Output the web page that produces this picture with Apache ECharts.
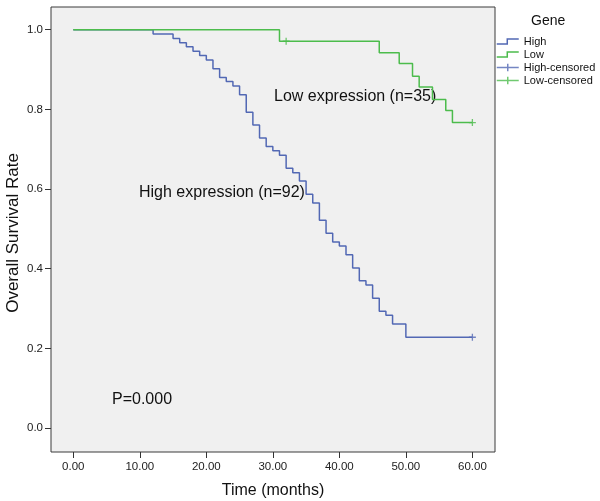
<!DOCTYPE html>
<html>
<head>
<meta charset="utf-8">
<script src="https://cdn.jsdelivr.net/npm/echarts@6/dist/echarts.min.js"></script>
<style>
html,body{margin:0;padding:0;background:#fff;}
#chart{width:600px;height:501px;}
</style>
</head>
<body>
<div id="chart"></div>
<script>
// Kaplan-Meier step data: [time (months), survival]
var highSteps = [
  [0, 1.0], [12, 0.989], [15, 0.978], [16, 0.967], [17, 0.957], [18, 0.946],
  [19, 0.935], [20, 0.924], [21, 0.902], [22, 0.880], [23, 0.870], [24, 0.859],
  [25, 0.837], [26, 0.793], [27, 0.761], [28, 0.728], [29, 0.707], [30, 0.696],
  [31, 0.685], [32, 0.652], [33, 0.641], [34, 0.620], [35, 0.587], [36, 0.565],
  [37, 0.522], [38, 0.489], [39, 0.467], [40, 0.457], [41, 0.435], [42, 0.402],
  [43, 0.370], [44, 0.359], [45, 0.326], [46, 0.293], [47, 0.283], [48, 0.261],
  [50, 0.228], [60, 0.228]
];
var lowSteps = [
  [0, 1.0], [31, 0.971], [46, 0.942], [49, 0.915], [51, 0.883], [52, 0.856],
  [54, 0.825], [56, 0.797], [57, 0.767], [60, 0.767]
];
var highCensored = [[60, 0.228]];
var lowCensored = [[32, 0.971], [60, 0.767]];

var xTicks = [0, 10, 20, 30, 40, 50, 60];
var yTicks = [0, 0.2, 0.4, 0.6, 0.8, 1.0];
var seriesNames = ['High', 'Low', 'High-censored', 'Low-censored'];

var BLUE = '#5268b4';
var GREEN = '#4cbc4c';
var FONT = '"Liberation Sans", Arial, Helvetica, sans-serif';
var crossPath = 'path://M0,3.5 L7,3.5 M3.5,0 L3.5,7';

var chart = echarts.init(document.getElementById('chart'), null, {renderer: 'canvas'});
chart.setOption({
  backgroundColor: '#ffffff',
  animation: false,
  textStyle: {fontFamily: FONT},
  title: {
    text: 'Gene', left: 531, top: 14, padding: 0,
    textStyle: {fontSize: 14, fontWeight: 'normal', color: '#111', fontFamily: FONT}
  },
  legend: {
    orient: 'vertical', left: 496, top: 35, padding: 0,
    itemWidth: 22, itemHeight: 8, itemGap: 0,
    selectedMode: false,
    textStyle: {fontSize: 11, color: '#111', lineHeight: 13, fontFamily: FONT},
    data: [
      {name: seriesNames[0], icon: 'path://M0,5 L11,5 L11,0 L23,0',
       itemStyle: {color: 'transparent', borderColor: BLUE, borderWidth: 1.5}},
      {name: seriesNames[1], icon: 'path://M0,5 L11,5 L11,0 L23,0',
       itemStyle: {color: 'transparent', borderColor: GREEN, borderWidth: 1.5}},
      {name: seriesNames[2], icon: 'path://M0,4 L23,4 M11.5,0 L11.5,8',
       itemStyle: {color: 'transparent', borderColor: BLUE, borderWidth: 1.5}},
      {name: seriesNames[3], icon: 'path://M0,4 L23,4 M11.5,0 L11.5,8',
       itemStyle: {color: 'transparent', borderColor: GREEN, borderWidth: 1.5}}
    ]
  },
  grid: {
    left: 51, right: 105, top: 7, bottom: 49,
    show: true, backgroundColor: '#f0f0f0', borderColor: '#3a3a3a', borderWidth: 1,
    containLabel: false, outerBoundsMode: 'none'
  },
  xAxis: {
    type: 'value', min: -3.35, max: 63.4,
    name: 'Time (months)', nameLocation: 'middle', nameGap: 31, nameMoveOverlap: false,
    nameTextStyle: {fontSize: 16, color: '#111', fontFamily: FONT},
    axisLine: {show: false, onZero: false},
    splitLine: {show: false},
    axisTick: {show: true, customValues: xTicks, length: 6, lineStyle: {color: '#333', width: 1}},
    axisLabel: {customValues: xTicks, fontSize: 11.5, color: '#222', margin: 9,
      formatter: function (v) { return v.toFixed(2); }}
  },
  yAxis: {
    type: 'value', min: -0.06, max: 1.057,
    name: 'Overall Survival Rate', nameLocation: 'middle', nameGap: 29, nameMoveOverlap: false,
    nameTextStyle: {fontSize: 17, color: '#111', fontFamily: FONT, padding: [0, 7, 0, 0]},
    axisLine: {show: false, onZero: false},
    splitLine: {show: false},
    axisTick: {show: true, customValues: yTicks, length: 6, lineStyle: {color: '#333', width: 1}},
    axisLabel: {customValues: yTicks, fontSize: 11.5, color: '#222', margin: 8,
      formatter: function (v) { return v.toFixed(1); }}
  },
  series: [
    {name: seriesNames[0], type: 'line', step: 'end', data: highSteps, showSymbol: false,
     lineStyle: {color: BLUE, width: 1.5}, itemStyle: {color: BLUE}, z: 3},
    {name: seriesNames[1], type: 'line', step: 'end', data: lowSteps, showSymbol: false,
     lineStyle: {color: GREEN, width: 1.5}, itemStyle: {color: GREEN}, z: 3},
    {name: seriesNames[2], type: 'scatter', data: highCensored, symbol: crossPath, symbolSize: 7,
     itemStyle: {color: 'transparent', borderColor: BLUE, borderWidth: 1.3}, z: 4},
    {name: seriesNames[3], type: 'scatter', data: lowCensored, symbol: crossPath, symbolSize: 7,
     itemStyle: {color: 'transparent', borderColor: GREEN, borderWidth: 1.3}, z: 4}
  ],
  graphic: [
    {type: 'text', left: 274, top: 89,
     style: {text: 'Low expression (n=35)', font: '16px ' + FONT, fill: '#111'}},
    {type: 'text', left: 139, top: 185,
     style: {text: 'High expression (n=92)', font: '16px ' + FONT, fill: '#111'}},
    {type: 'text', left: 112, top: 392,
     style: {text: 'P=0.000', font: '16px ' + FONT, fill: '#111'}}
  ]
});
</script>
</body>
</html>
